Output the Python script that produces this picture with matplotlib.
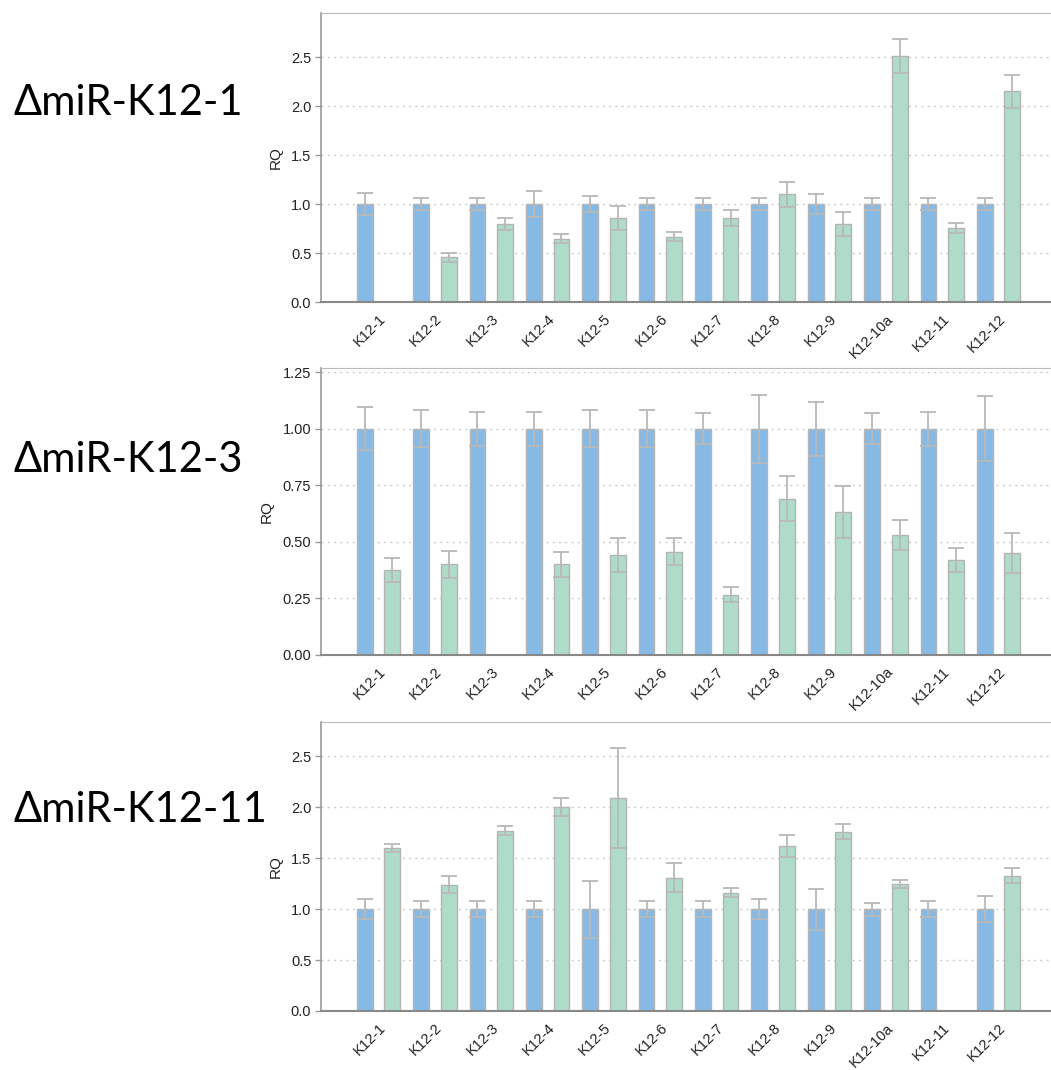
import numpy as np
import matplotlib
matplotlib.use("Agg")
import matplotlib.pyplot as plt

categories = ["K12-1", "K12-2", "K12-3", "K12-4", "K12-5", "K12-6", "K12-7",
              "K12-8", "K12-9", "K12-10a", "K12-11", "K12-12"]

titles = ["\u0394miR-K12-1", "\u0394miR-K12-3", "\u0394miR-K12-11"]

# Panel 1: ΔmiR-K12-1
p1_blue = [1.0] * 12
p1_blue_err = [0.11, 0.06, 0.06, 0.13, 0.08, 0.06, 0.06, 0.06, 0.10, 0.06, 0.06, 0.06]
p1_green = [0.0, 0.46, 0.80, 0.65, 0.86, 0.67, 0.86, 1.10, 0.80, 2.51, 0.76, 2.15]
p1_green_err = [0.0, 0.045, 0.06, 0.045, 0.125, 0.05, 0.08, 0.125, 0.125, 0.17, 0.05, 0.17]

# Panel 2: ΔmiR-K12-3
p2_blue = [1.0] * 12
p2_blue_err = [0.095, 0.083, 0.075, 0.075, 0.083, 0.083, 0.07, 0.15, 0.12, 0.07, 0.075, 0.145]
p2_green = [0.375, 0.40, 0.0, 0.40, 0.44, 0.455, 0.265, 0.69, 0.63, 0.53, 0.42, 0.45]
p2_green_err = [0.053, 0.06, 0.0, 0.055, 0.075, 0.06, 0.034, 0.10, 0.115, 0.068, 0.053, 0.088]

# Panel 3: ΔmiR-K12-11
p3_blue = [1.0] * 12
p3_blue_err = [0.10, 0.08, 0.08, 0.08, 0.28, 0.08, 0.08, 0.10, 0.20, 0.065, 0.08, 0.13]
p3_green = [1.60, 1.24, 1.77, 2.00, 2.09, 1.31, 1.16, 1.62, 1.76, 1.25, 0.0, 1.33]
p3_green_err = [0.043, 0.085, 0.045, 0.09, 0.49, 0.138, 0.045, 0.108, 0.075, 0.04, 0.0, 0.07]

panels = [
    (p1_blue, p1_blue_err, p1_green, p1_green_err, 2.95, [0.0, 0.5, 1.0, 1.5, 2.0, 2.5], "{:.1f}"),
    (p2_blue, p2_blue_err, p2_green, p2_green_err, 1.267, [0.0, 0.25, 0.5, 0.75, 1.0, 1.25], "{:.2f}"),
    (p3_blue, p3_blue_err, p3_green, p3_green_err, 2.84, [0.0, 0.5, 1.0, 1.5, 2.0, 2.5], "{:.1f}"),
]

W, H = 1051, 1070
fig = plt.figure(figsize=(W / 100, H / 100), dpi=100)

# (top_px, bottom_px)
rows = [(13, 302.3), (368.3, 654.7), (721.7, 1011)]
title_y = [103, 460, 810]
left_px = 321

blue_c = "#86b9e4"
green_c = "#aedcc9"
edge_c = "#b4b4b4"
err_c = "#b8b8b8"
fam = ["Liberation Sans", "DejaVu Sans"]

x = np.arange(len(categories))
bw = 0.28
off = 0.245

for i, (b, be, g, ge, ytop, yt, fmt) in enumerate(panels):
    top, bot = rows[i]
    ax = fig.add_axes([left_px / W, 1 - bot / H, 1 - left_px / W, (bot - top) / H])
    b = np.array(b); be = np.array(be); g = np.array(g); ge = np.array(ge)
    ax.bar(x - off, b, width=bw, color=blue_c, edgecolor=edge_c, linewidth=1.0, zorder=2)
    mask = g > 0
    ax.bar(x[mask] + off, g[mask], width=bw, color=green_c, edgecolor=edge_c, linewidth=1.0, zorder=2)
    ax.errorbar(x - off, b, yerr=be, fmt="none", ecolor=err_c, elinewidth=1.3,
                capsize=6, capthick=1.3, zorder=3)
    ax.errorbar(x[mask] + off, g[mask], yerr=ge[mask], fmt="none", ecolor=err_c, elinewidth=1.3,
                capsize=6, capthick=1.3, zorder=3)
    ax.set_xlim(-1.02, 11.93)
    ax.set_ylim(0, ytop)
    ax.set_yticks(yt)
    ax.set_yticklabels([fmt.format(v) for v in yt], fontsize=10.5, color="#222222", family=fam)
    ax.set_xticks(x)
    ax.set_xticklabels(categories, rotation=45, ha="right", rotation_mode="anchor",
                       fontsize=10.5, color="#222222", family=fam)
    ax.tick_params(axis="x", length=0, pad=7)
    ax.tick_params(axis="y", length=4, width=1, color="#999999", pad=3)
    for v in yt[1:]:
        ax.axhline(v, color="#cccccc", linestyle=(0, (1.5, 3)), linewidth=1.0, zorder=1)
    ax.spines["right"].set_visible(False)
    ax.spines["top"].set_color("#bbbbbb")
    ax.spines["left"].set_color("#999999")
    ax.spines["bottom"].set_color("#888888")
    ax.spines["left"].set_linewidth(1.2)
    ax.spines["bottom"].set_linewidth(1.5)
    ax.set_ylabel("RQ", fontsize=11, family=fam, color="#222222", labelpad=6)
    fig.text(13 / W, 1 - title_y[i] / H, titles[i], fontsize=30, ha="left", va="center",
             family=["Lato", "DejaVu Sans"], color="black")

fig.savefig("out.png", dpi=100)
